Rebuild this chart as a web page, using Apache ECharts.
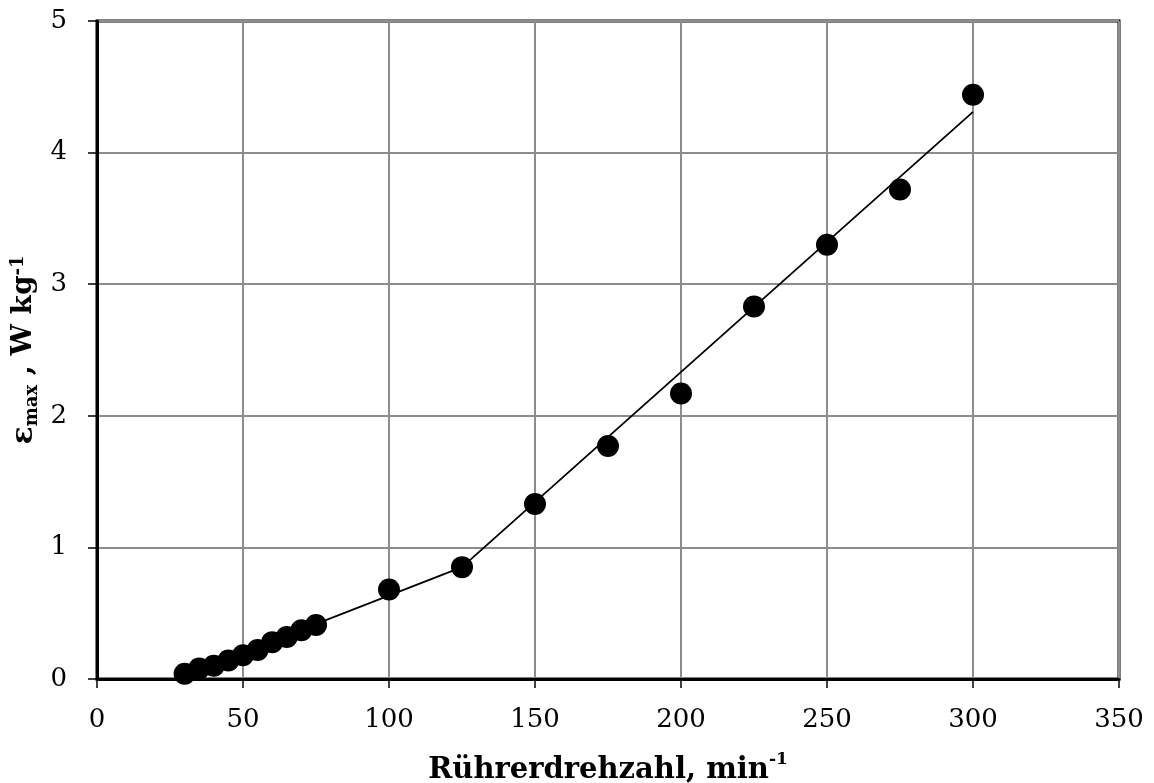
<!DOCTYPE html>
<html>
<head>
<meta charset="utf-8">
<script src="https://cdn.jsdelivr.net/npm/echarts@6/dist/echarts.min.js"></script>
<style>
  html, body { margin: 0; padding: 0; background: #fff; }
  #chart { width: 1154px; height: 783px; }
</style>
</head>
<body>
<div id="chart"></div>
<script>
// Stirrer speed (min^-1) and measured maximum energy dissipation (W/kg)
const speeds = [30, 35, 40, 45, 50, 55, 60, 65, 70, 75, 100, 125, 150, 175, 200, 225, 250, 275, 300];
const epsMax = [0.04, 0.08, 0.10, 0.14, 0.18, 0.22, 0.28, 0.32, 0.37, 0.41, 0.68, 0.85, 1.33, 1.77, 2.17, 2.83, 3.30, 3.72, 4.44];

// Piecewise linear trend through the measurements
const trendSpeeds = [30, 125, 300];
const trendEps = [0.03, 0.85, 4.31];

const xTicks = { min: 0, max: 350, step: 50 };
const yTicks = { min: 0, max: 5, step: 1 };

const FONT = 'DejaVu Serif';

const chart = echarts.init(document.getElementById('chart'), null, { renderer: 'canvas' });

chart.setOption({
  backgroundColor: '#ffffff',
  animation: false,
  grid: {
    left: 97, right: 35, top: 21, bottom: 104,
    containLabel: false,
    outerBoundsMode: 'none',
    show: true, borderColor: '#000', borderWidth: 3
  },
  xAxis: {
    type: 'value',
    min: xTicks.min, max: xTicks.max, interval: xTicks.step,
    name: '{t|Rührerdrehzahl, min}{s|-1}',
    nameLocation: 'middle',
    nameGap: 70,
    nameMoveOverlap: false,
    nameTextStyle: {
      rich: {
        t: { fontFamily: FONT, fontSize: 29, fontWeight: 'bold', color: '#000', lineHeight: 36, verticalAlign: 'bottom' },
        s: { fontFamily: FONT, fontSize: 17, fontWeight: 'bold', color: '#000', lineHeight: 36, verticalAlign: 'top', padding: [2, 0, 0, 0] }
      }
    },
    axisLine: { show: true, lineStyle: { color: '#000', width: 3 } },
    axisTick: { show: true, inside: false, length: 9, lineStyle: { color: '#000', width: 1.5 } },
    axisLabel: { fontFamily: FONT, fontSize: 26, color: '#000', margin: 28 },
    splitLine: { show: true, lineStyle: { color: '#8c8c8c', width: 2 } }
  },
  yAxis: {
    type: 'value',
    min: yTicks.min, max: yTicks.max, interval: yTicks.step,
    name: '{e|ε}{sub|max}{t| , W kg}{sup|-1}',
    nameLocation: 'middle',
    nameRotate: 90,
    nameGap: 52,
    nameMoveOverlap: false,
    nameTextStyle: {
      rich: {
        e: { fontFamily: FONT, fontSize: 30, fontWeight: 'bold', color: '#000', lineHeight: 42 },
        sub: { fontFamily: FONT, fontSize: 18, fontWeight: 'bold', color: '#000', lineHeight: 42, verticalAlign: 'bottom', padding: [0, 0, 4, 0] },
        t: { fontFamily: FONT, fontSize: 28, fontWeight: 'bold', color: '#000', lineHeight: 42 },
        sup: { fontFamily: FONT, fontSize: 18, fontWeight: 'bold', color: '#000', lineHeight: 42, verticalAlign: 'top', padding: [6, 0, 0, 0] }
      }
    },
    axisLine: { show: true, lineStyle: { color: '#000', width: 3 } },
    axisTick: { show: true, inside: false, length: 9, lineStyle: { color: '#000', width: 1.5 } },
    axisLabel: { fontFamily: FONT, fontSize: 26, color: '#000', margin: 30 },
    splitLine: { show: true, lineStyle: { color: '#8c8c8c', width: 2 } }
  },
  series: [
    {
      name: 'Trend',
      type: 'line',
      data: trendSpeeds.map((x, i) => [x, trendEps[i]]),
      showSymbol: false,
      symbol: 'none',
      lineStyle: { color: '#000', width: 1.8 },
      z: 2
    },
    {
      name: 'εmax',
      type: 'scatter',
      data: speeds.map((x, i) => [x, epsMax[i]]),
      symbol: 'circle',
      symbolSize: 22,
      itemStyle: { color: '#000', opacity: 1 },
      z: 3
    }
  ]
});
</script>
</body>
</html>
